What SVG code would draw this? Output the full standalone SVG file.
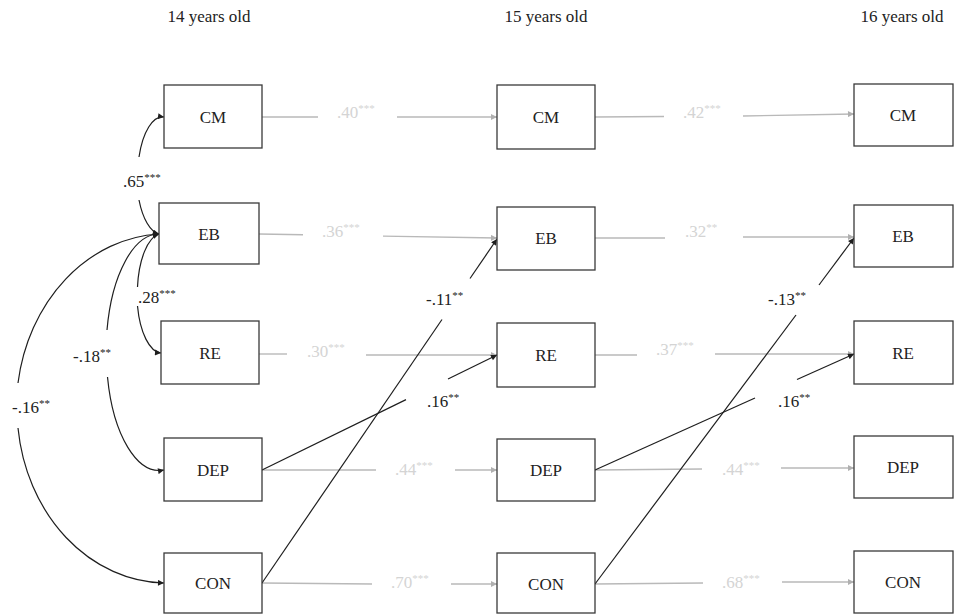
<svg xmlns="http://www.w3.org/2000/svg" width="955" height="614" viewBox="0 0 955 614">
<style>
  .box { fill: #ffffff; stroke: #3a3a3a; stroke-width: 1.3; }
  .nt { font-family: "Liberation Serif", "Times New Roman", serif; font-size: 17px; fill: #222; text-anchor: middle; }
  .title { font-family: "Liberation Serif", "Times New Roman", serif; font-size: 17px; fill: #222; text-anchor: middle; }
  .gl { stroke: #b9b9b9; stroke-width: 1.4; fill: none; }
  .bl { stroke: #1e1e1e; stroke-width: 1.2; fill: none; }
  .glab { font-family: "Liberation Serif", "Times New Roman", serif; font-size: 17px; fill: #d4d4d4; }
  .blab { font-family: "Liberation Serif", "Times New Roman", serif; font-size: 17px; fill: #222; }
  .sup { font-size: 11px; }
</style>
<defs>
  <marker id="ag" viewBox="0 0 10 10" refX="10" refY="5" markerWidth="8" markerHeight="6" markerUnits="userSpaceOnUse" orient="auto-start-reverse">
    <path d="M0,0 L10,5 L0,10 z" fill="#b0b0b0"/>
  </marker>
  <marker id="ab" viewBox="0 0 10 10" refX="10" refY="5" markerWidth="8" markerHeight="6" markerUnits="userSpaceOnUse" orient="auto-start-reverse">
    <path d="M0,0 L10,5 L0,10 z" fill="#1e1e1e"/>
  </marker>
</defs>
<rect x="0" y="0" width="955" height="614" fill="#ffffff"/>

<g id="titles">
  <text class="title" x="209" y="22">14 years old</text>
  <text class="title" x="546" y="22">15 years old</text>
  <text class="title" x="902" y="22">16 years old</text>
</g>

<g id="connectors">
  <!-- stability paths (gray) -->
  <line class="gl" x1="262" y1="117" x2="318" y2="117"/>
  <line class="gl" x1="397" y1="117" x2="497" y2="117" marker-end="url(#ag)"/>
  <line class="gl" x1="259" y1="234" x2="303" y2="234.7"/>
  <line class="gl" x1="383" y1="236.1" x2="497" y2="238" marker-end="url(#ag)"/>
  <line class="gl" x1="259" y1="354" x2="287" y2="354"/>
  <line class="gl" x1="366" y1="355" x2="497" y2="355" marker-end="url(#ag)"/>
  <line class="gl" x1="262" y1="470" x2="376" y2="470"/>
  <line class="gl" x1="455" y1="470" x2="497" y2="470" marker-end="url(#ag)"/>
  <line class="gl" x1="262" y1="583" x2="372" y2="584"/>
  <line class="gl" x1="451" y1="584" x2="497" y2="584" marker-end="url(#ag)"/>

  <line class="gl" x1="595" y1="117" x2="664" y2="116.5"/>
  <line class="gl" x1="743" y1="116" x2="854" y2="114" marker-end="url(#ag)"/>
  <line class="gl" x1="595" y1="238" x2="665" y2="238"/>
  <line class="gl" x1="743" y1="237" x2="854" y2="237" marker-end="url(#ag)"/>
  <line class="gl" x1="595" y1="355" x2="637" y2="355"/>
  <line class="gl" x1="715" y1="354" x2="854" y2="354" marker-end="url(#ag)"/>
  <line class="gl" x1="595" y1="470" x2="702" y2="469"/>
  <line class="gl" x1="781" y1="468" x2="854" y2="468" marker-end="url(#ag)"/>
  <line class="gl" x1="595" y1="584" x2="703" y2="583"/>
  <line class="gl" x1="782" y1="582" x2="854" y2="582" marker-end="url(#ag)"/>

  <!-- cross-lagged paths (black) -->
  <line class="bl" x1="262" y1="470" x2="406" y2="399.6"/>
  <line class="bl" x1="448" y1="379" x2="497" y2="355" marker-end="url(#ab)"/>
  <line class="bl" x1="262" y1="583" x2="442" y2="319.5"/>
  <line class="bl" x1="470" y1="278.5" x2="497" y2="239" marker-end="url(#ab)"/>
  <line class="bl" x1="595" y1="470" x2="755" y2="398"/>
  <line class="bl" x1="797" y1="379.5" x2="854" y2="354" marker-end="url(#ab)"/>
  <line class="bl" x1="595" y1="584" x2="796" y2="315"/>
  <line class="bl" x1="819" y1="285" x2="854" y2="238" marker-end="url(#ab)"/>

  <!-- correlations at 14 (black curves) -->
  <path class="bl" d="M164,117 A25,60 0 0 0 139,157" marker-start="url(#ab)"/>
  <path class="bl" d="M139,200 A25,60 0 0 0 159,234" marker-end="url(#ab)"/>
  <path class="bl" d="M159,234 A25,60 0 0 0 137.5,287" marker-start="url(#ab)"/>
  <path class="bl" d="M137.5,306 A25,60 0 0 0 161,353" marker-end="url(#ab)"/>
  <path class="bl" d="M159,234 A53,118 0 0 0 107,330" marker-start="url(#ab)"/>
  <path class="bl" d="M107.5,377 A53,118 0 0 0 164,470" marker-end="url(#ab)"/>
  <path class="bl" d="M159,234 A150,175 0 0 0 18,383" marker-start="url(#ab)"/>
  <path class="bl" d="M18,428 A150,175 0 0 0 164,583" marker-end="url(#ab)"/>
</g>

<g id="labels">
  <text class="glab" x="337" y="118">.40<tspan class="sup" dy="-6">***</tspan></text>
  <text class="glab" x="322" y="237">.36<tspan class="sup" dy="-6">***</tspan></text>
  <text class="glab" x="307" y="357">.30<tspan class="sup" dy="-6">***</tspan></text>
  <text class="glab" x="395" y="475">.44<tspan class="sup" dy="-6">***</tspan></text>
  <text class="glab" x="391" y="588">.70<tspan class="sup" dy="-6">***</tspan></text>
  <text class="glab" x="683" y="118">.42<tspan class="sup" dy="-6">***</tspan></text>
  <text class="glab" x="685" y="237">.32<tspan class="sup" dy="-6">**</tspan></text>
  <text class="glab" x="656" y="355">.37<tspan class="sup" dy="-6">***</tspan></text>
  <text class="glab" x="722" y="475">.44<tspan class="sup" dy="-6">***</tspan></text>
  <text class="glab" x="722" y="588">.68<tspan class="sup" dy="-6">***</tspan></text>

  <text class="blab" x="123" y="187">.65<tspan class="sup" dy="-6">***</tspan></text>
  <text class="blab" x="138" y="303">.28<tspan class="sup" dy="-6">***</tspan></text>
  <text class="blab" x="73" y="362">-.18<tspan class="sup" dy="-6">**</tspan></text>
  <text class="blab" x="12" y="413">-.16<tspan class="sup" dy="-6">**</tspan></text>
  <text class="blab" x="426" y="305">-.11<tspan class="sup" dy="-6">**</tspan></text>
  <text class="blab" x="427" y="407">.16<tspan class="sup" dy="-6">**</tspan></text>
  <text class="blab" x="768" y="305">-.13<tspan class="sup" dy="-6">**</tspan></text>
  <text class="blab" x="778" y="407">.16<tspan class="sup" dy="-6">**</tspan></text>
</g>

<g id="node-CM14"><rect class="box" x="164" y="85" width="98" height="63"/><text class="nt" x="213" y="123">CM</text></g>
<g id="node-EB14"><rect class="box" x="159" y="203" width="100" height="61"/><text class="nt" x="209" y="240">EB</text></g>
<g id="node-RE14"><rect class="box" x="161" y="321" width="98" height="63"/><text class="nt" x="210" y="359">RE</text></g>
<g id="node-DEP14"><rect class="box" x="164" y="438" width="98" height="63"/><text class="nt" x="213" y="476">DEP</text></g>
<g id="node-CON14"><rect class="box" x="164" y="553" width="98" height="60"/><text class="nt" x="213" y="589">CON</text></g>

<g id="node-CM15"><rect class="box" x="497" y="85" width="98" height="64"/><text class="nt" x="546" y="123">CM</text></g>
<g id="node-EB15"><rect class="box" x="497" y="207" width="98" height="63"/><text class="nt" x="546" y="244">EB</text></g>
<g id="node-RE15"><rect class="box" x="497" y="323" width="98" height="64"/><text class="nt" x="546" y="361">RE</text></g>
<g id="node-DEP15"><rect class="box" x="497" y="439" width="98" height="62"/><text class="nt" x="546" y="476">DEP</text></g>
<g id="node-CON15"><rect class="box" x="497" y="553" width="98" height="60"/><text class="nt" x="546" y="590">CON</text></g>

<g id="node-CM16"><rect class="box" x="854" y="84" width="99" height="62"/><text class="nt" x="903" y="121">CM</text></g>
<g id="node-EB16"><rect class="box" x="854" y="205" width="99" height="62"/><text class="nt" x="903" y="242">EB</text></g>
<g id="node-RE16"><rect class="box" x="854" y="321" width="99" height="63"/><text class="nt" x="903" y="359">RE</text></g>
<g id="node-DEP16"><rect class="box" x="854" y="436" width="99" height="62"/><text class="nt" x="903" y="473">DEP</text></g>
<g id="node-CON16"><rect class="box" x="854" y="551" width="99" height="62"/><text class="nt" x="903" y="588">CON</text></g>
</svg>
